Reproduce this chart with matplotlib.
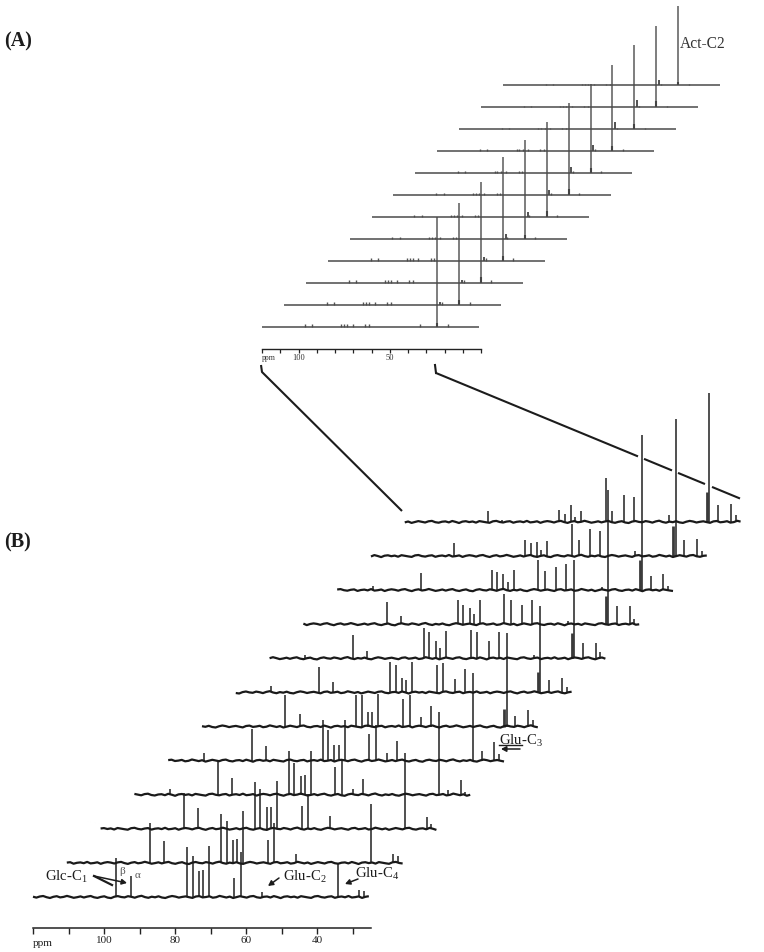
import numpy as np
import matplotlib
matplotlib.use("Agg")
import matplotlib.pyplot as plt

plt.rcParams['font.family'] = ['Liberation Serif', 'DejaVu Serif']
plt.rcParams['mathtext.fontset'] = 'custom'
plt.rcParams['mathtext.rm'] = 'Liberation Serif'

# ---------- Panel B: 13C peaks (ppm) and heights per spectrum, front to back ----------
ppm_b = [110.0, 96.5, 92.5, 76.5, 75.0, 73.2, 72.0, 70.3, 63.4, 61.5, 58.3, 55.5, 45.5, 34.8, 34.2, 31.7, 28.1, 26.8]
h_110 = [0, 0, 0, 6, 8, 0, 6, 3, 0, 4, 0, 0]
h_glc_beta = [39, 40, 36, 33, 32, 32, 25, 23, 22, 17, 13, 11]
h_glc_alpha = [21, 22, 21, 17, 15, 13, 10, 7, 8, 0, 0, 2]
h_765 = [50, 49, 47, 44, 41, 32, 30, 30, 24, 20, 16, 12]
h_750 = [41, 42, 40, 32, 31, 32, 27, 26, 19, 18, 13, 8]
h_732 = [26, 23, 22, 19, 16, 15, 14, 17, 16, 16, 14, 17]
h_720 = [27, 24, 22, 20, 16, 15, 12, 10, 10, 8, 6, 5]
h_703 = [51, 52, 48, 44, 41, 33, 30, 27, 24, 20, 15, 11]
h_634 = [19, 23, 23, 28, 27, 28, 27, 28, 30, 30, 32, 44]
h_615 = [45, 40, 35, 36, 36, 32, 29, 26, 24, 19, 16, 11]
h_583 = [0, 0, 0, 6, 8, 10, 13, 17, 19, 23, 27, 27]
h_glu_c2 = [5, 9, 13, 16, 20, 21, 23, 26, 24, 26, 25, 25]
h_455 = [0, 0, 0, 0, 0, 0, 0, 3, 3, 3, 5, 7]
h_348 = [0, 0, 0, 0, 0, 18, 20, 25, 28, 30, 30, 30]
h_glu_c4 = [33, 59, 76, 83, 88, 94, 86, 98, 134, 155, 137, 129]
h_317 = [0, 0, 0, 5, 10, 11, 12, 15, 18, 14, 16, 17]
h_glu_c3 = [7, 9, 12, 15, 19, 17, 14, 15, 18, 16, 17, 18]
h_268 = [6, 7, 5, 3, 7, 7, 5, 6, 5, 4, 5, 7]
heights_b = [h_110, h_glc_beta, h_glc_alpha, h_765, h_750, h_732, h_720, h_703, h_634, h_615,
             h_583, h_glu_c2, h_455, h_348, h_glu_c4, h_317, h_glu_c3, h_268]

ripple_b = [0.3, -0.6, 0.5, 1.0, -0.2, -1.0, 0.2, 0.8, -0.4, 0.1, 1.1, 0.2, -0.8, -0.2, 0.6, -0.5, 0.4, 1.0, -0.3,
            -0.9, 0.1, 0.7, -0.6, -1.1, 0.3, 0.9, 0.0, -0.4, 0.8, 0.2, -0.7, 0.5, 1.2, -0.1, -0.8, 0.3, -0.3, 0.7,
            -0.5, -1.0, 0.2, 1.0, 0.4, -0.6, 0.1, 0.6, -0.2, -0.9, 0.5, 0.9, -0.4, 0.0, 0.7, -0.7, -0.2, 1.1, 0.3,
            -0.5, 0.4, -1.0, -0.1, 0.8, 0.1, -0.6, 0.6, 1.0, -0.3, -0.8, 0.2, 0.5, -0.5, 0.9, 0.0, -1.1, 0.3, 0.7,
            -0.2, 0.4, -0.7, 0.8, 0.2, -0.4, -0.9, 0.6, 1.0, -0.1, -0.6, 0.3, 0.7, -0.8, 0.1, 0.5, -0.3, 1.0, -0.5,
            -0.1, 0.6, -0.9, 0.2, 0.8]

# ---------- Panel A ----------
h_acetate = [110, 102, 101, 104, 99, 95, 92, 89, 86, 84, 81, 78.5]
h_acetate_base = [4, 5, 6, 5, 4, 6, 6, 5, 5, 5, 6, 3]
h_side = [0, 3, 3, 4, 5, 5, 5, 6, 6, 7, 7, 5]
ppm_act = 24.0
ppm_side = 34.5
ppm_minor_a = [96.5, 92.5, 76.5, 75.0, 73.2, 70.3, 63.4, 61.5, 33.5, 18.3]
h_minor_a = [3, 3, 2.5, 2.5, 2, 2, 2, 1.5, 1.5, 1, 1, 1]

# ---------- Ticks ----------
ticks_b = [120, 110, 100, 90, 80, 70, 60, 50, 40, 30]
ticklabels_b = ['', '', '100', '', '80', '', '60', '', '40', '']
ticks_a = [120, 110, 100, 90, 80, 70, 60, 50, 40, 30, 20, 10, 0]
ticklabels_a = ['', '', '100', '', '', '', '', '50', '', '', '', '', '']

W, H = 764, 952
fig = plt.figure(figsize=(W / 100, H / 100), dpi=100, facecolor='white')


def panel(px_per_ppm, x0_px, base_px, right_ppm):
    ax = fig.add_axes([0, 0, 1, 1], facecolor='none')
    ax.set_xlim(120 + x0_px / px_per_ppm, 120 - (W - x0_px) / px_per_ppm)
    ax.set_ylim(-(H - base_px), base_px)
    for s in ('top', 'left', 'right'):
        ax.spines[s].set_visible(False)
    ax.yaxis.set_visible(False)
    ax.spines['bottom'].set_bounds(120, right_ppm)
    return ax


# Panel B
ax_b = panel(3.55, 33, 897, 24.8)
step_ppm_b, step_y_b = 9.52, 34.1
ax_b.spines['bottom'].set_position(('data', -31))
ax_b.spines['bottom'].set_linewidth(1.1)
ax_b.spines['bottom'].set_color('#222222')
ax_b.set_xticks(ticks_b, ticklabels_b, fontsize=8, color='#222222')
ax_b.tick_params(axis='x', direction='out', length=4.2, width=1.0, pad=1.5, color='#222222')
for i in range(12):
    sx = -i * step_ppm_b
    sy = i * step_y_b
    grid = np.linspace(120, 25.4, len(ripple_b))
    ax_b.plot(grid + sx, np.roll(ripple_b, i * 13) + sy, color='#1a1a1a', lw=1.6, solid_joinstyle='round',
              solid_capstyle='butt', zorder=3)
    for p, col in zip(ppm_b, heights_b):
        if col[i] > 0:
            width = 2.0 if p == 34.8 else 1.25
            ax_b.vlines(p + sx, sy, sy + col[i], color='#3a3a3a', lw=width, zorder=2)

# Panel A
ax_a = panel(1.825, 262, 326.5, 0)
step_ppm_a, step_y_a = 12.0, 22.0
ax_a.spines['bottom'].set_position(('data', -22.3))
ax_a.spines['bottom'].set_linewidth(1.0)
ax_a.spines['bottom'].set_color('#222222')
ax_a.set_xticks(ticks_a, ticklabels_a, fontsize=6, color='#333333')
ax_a.tick_params(axis='x', direction='out', length=3.2, width=0.9, pad=0.8, color='#222222')
for i in range(12):
    sx = -i * step_ppm_a
    sy = i * step_y_a
    ax_a.plot([120 + sx, 1 + sx], [sy, sy], color='#4a4a4a', lw=1.1, solid_capstyle='butt', zorder=3)
    ax_a.vlines(ppm_act + sx, sy, sy + h_acetate[i], color='#5a5a5a', lw=1.1, zorder=2)
    ax_a.vlines(ppm_act + sx, sy, sy + h_acetate_base[i], color='#444444', lw=1.5, zorder=2)
    if h_side[i] > 0:
        ax_a.vlines(ppm_side + sx, sy, sy + h_side[i], color='#444444', lw=1.3, zorder=2)
    ax_a.vlines(np.array(ppm_minor_a) + sx, sy, sy + h_minor_a[i], color='#555555', lw=1.0, zorder=2)

# Overlay in image pixels for annotations
ov = fig.add_axes([0, 0, 1, 1], facecolor='none')
ov.set_xlim(0, W)
ov.set_ylim(H, 0)
ov.axis('off')

ink = '#1c1c1c'
ov.plot([261, 262, 402], [365, 372, 511], color=ink, lw=1.5, solid_capstyle='butt')
slope = (498.5 - 373) / (740 - 436)
for a, b in [(436, 638), (644, 672), (678, 705), (712, 740)]:
    ov.plot([a, b], [373 + (a - 436) * slope, 373 + (b - 436) * slope], color=ink, lw=1.5, solid_capstyle='butt')
ov.plot([435, 436], [365, 373], color=ink, lw=1.5)


def t(x, y, s, size, **kw):
    kw.setdefault('color', '#1c1c1c')
    ov.text(x, y, s, fontsize=size, ha=kw.pop('ha', 'left'), va=kw.pop('va', 'center'), **kw)


t(4, 41, '(A)', 14.5, fontweight='bold')
t(4, 542, '(B)', 14.5, fontweight='bold')
t(680, 44, 'Act-C2', 11.2, color='#333333')
t(45, 877, 'Glc-C$_{1}$', 10.6)
t(119, 871.5, 'β', 8, color='#555555')
t(135, 876, 'α', 8, color='#555555')
t(283, 877, 'Glu-C$_{2}$', 10.6)
t(355, 874, 'Glu-C$_{4}$', 10.6)
t(499, 741, 'Glu-C$_{3}$', 10.6)
t(262, 358, 'ppm', 5.5, color='#333333')
t(33, 943, 'ppm', 8)

ov.plot([499, 522], [745, 745], color=ink, lw=1.0)
ov.plot([94, 112], [876, 885], color=ink, lw=1.6)


def arrow(x0, y0, x1, y1):
    ov.annotate('', xy=(x1, y1), xytext=(x0, y0),
                arrowprops=dict(arrowstyle='-|>,head_width=0.16,head_length=0.3', color=ink, lw=1.1,
                                shrinkA=0, shrinkB=0))


arrow(94, 876, 127, 883)
arrow(279, 878, 268, 886)
arrow(358, 879, 345, 884)
arrow(520, 749, 501, 749)

fig.savefig('out.png', dpi=100)
